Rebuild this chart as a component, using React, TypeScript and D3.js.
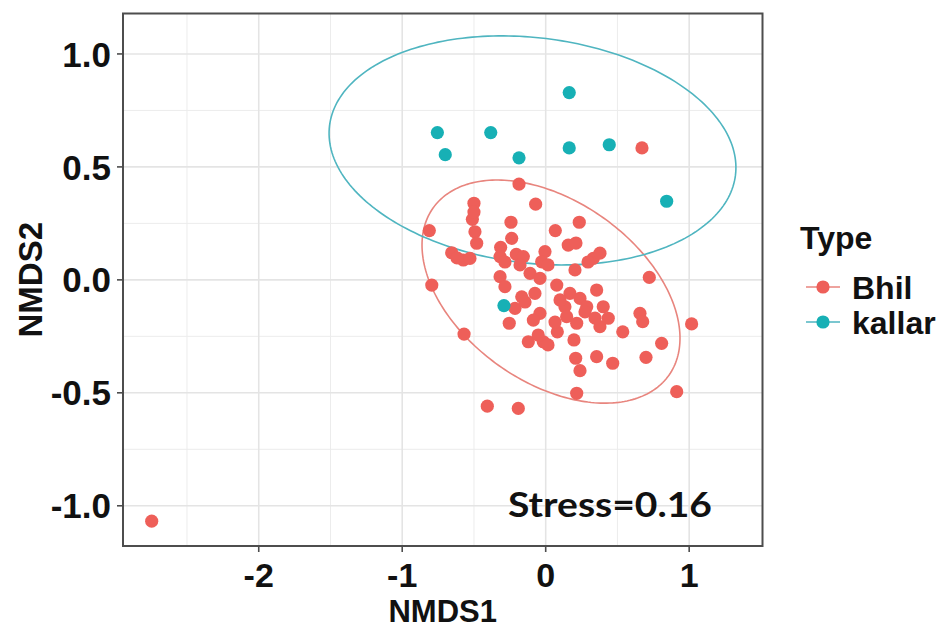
import React from "react";
import * as d3 from "d3";

// NMDS ordination scores per site, grouped by Type
const bhilX = [
  -0.186, -0.5, -0.07, 0.234, -0.811, -0.511, -0.493, -0.481, -0.242, 0.067,
  -0.237, -0.314, -0.205, 0.157, 0.211, -0.655, -0.574, -0.528, -0.318, -0.156,
  -0.005, -0.028, 0.332, 0.378, 0.204, -0.794, 0.722, -0.318, -0.109, -0.04,
  0.077, -0.284, 0.355, 0.169, -0.167, -0.075, 0.239, 0.134, 0.286, 0.401,
  -0.214, -0.04, -0.086, 0.146, 0.216, 0.378, 0.436, 0.657, 0.676, -0.254,
  -0.569, 0.081, 0.537, 1.017, -0.121, -0.017, -0.052, 0.197, 0.808, 0.209,
  0.355, 0.467, 0.699, 0.239, 0.216, 0.913, -0.407, -0.191, 0.671, -2.746,
  -0.618, -0.5, -0.284, -0.179, 0.016, 0.274, 0.1, 0.344, -0.144, 0.295,
  0.065, 0.016,
];
const bhilY = [
  0.424, 0.339, 0.335, 0.255, 0.218, 0.268, 0.213, 0.162, 0.255, 0.218,
  0.184, 0.144, 0.113, 0.154, 0.163, 0.12, 0.088, 0.095, 0.103, 0.103,
  0.125, 0.08, 0.095, 0.118, 0.044, -0.023, 0.011, 0.014, 0.029, 0.007,
  -0.023, -0.03, -0.045, -0.06, -0.075, -0.06, -0.082, -0.119, -0.119, -0.119,
  -0.126, -0.148, -0.178, -0.163, -0.192, -0.207, -0.17, -0.148, -0.185, -0.192,
  -0.24, -0.23, -0.23, -0.195, -0.274, -0.274, -0.244, -0.266, -0.281, -0.347,
  -0.34, -0.369, -0.343, -0.402, -0.502, -0.495, -0.559, -0.569, 0.584, -1.068,
  0.097, 0.3, 0.079, 0.066, 0.066, -0.142, -0.089, -0.169, -0.098, 0.079,
  -0.187, -0.288,
];
const kallarX = [0.164, -0.755, -0.383, -0.7, -0.186, 0.164, 0.443, 0.843, -0.291];
const kallarY = [0.829, 0.652, 0.652, 0.554, 0.54, 0.584, 0.598, 0.348, -0.114];

const groupNames = ["Bhil", "kallar"];
const pointColors = ["#EE5F59", "#17B0B5"];
const ellipseColors = ["#E8857E", "#4FB5C0"];

// 95% confidence ellipses: centre and two conjugate semi-axes in NMDS units
const ellipseCenters = [[0.037, -0.052], [-0.092, 0.573]];
const ellipseAxisA = [[0.822, -0.37], [1.4146, -0.1094]];
const ellipseAxisB = [[-0.364, -0.327], [-0.095, -0.495]];

const xLimits = [-2.946, 1.511];
const yLimits = [-1.178, 1.179];
const xTicks = [-2, -1, 0, 1];
const xTickLabels = ["-2", "-1", "0", "1"];
const xMinor = [-2.5, -1.5, -0.5, 0.5];
const yTicks = [-1, -0.5, 0, 0.5, 1];
const yTickLabels = ["-1.0", "-0.5", "0.0", "0.5", "1.0"];
const yMinor = [-0.75, -0.25, 0.25, 0.75];
const stressLabel = "Stress=0.16";

const W = 951;
const H = 630;
const panel = { left: 123, right: 762.5, top: 13.5, bottom: 546 };
const axisFont = "'Liberation Sans', Arial, sans-serif";

export default function App() {
  const x = d3.scaleLinear().domain(xLimits).range([panel.left, panel.right]);
  const y = d3.scaleLinear().domain(yLimits).range([panel.bottom, panel.top]);

  const groups = [
    { xs: bhilX, ys: bhilY },
    { xs: kallarX, ys: kallarY },
  ];

  const ellipsePath = (g: number) => {
    const c = ellipseCenters[g];
    const a = ellipseAxisA[g];
    const b = ellipseAxisB[g];
    const ts = d3.range(0, 2 * Math.PI, (2 * Math.PI) / 240);
    const pts: [number, number][] = ts.map((t) => [
      c[0] + a[0] * Math.cos(t) + b[0] * Math.sin(t),
      c[1] + a[1] * Math.cos(t) + b[1] * Math.sin(t),
    ]);
    return d3
      .line<[number, number]>()
      .x((d) => x(d[0]))
      .y((d) => y(d[1]))
      .curve(d3.curveLinearClosed)(pts) as string;
  };

  const gridColor = "#ECECEC";
  const axisColor = "#4D4D4D";

  return (
    <svg
      width={W}
      height={H}
      style={{ position: "absolute", left: 0, top: 0, background: "#fff" }}
    >
      <defs>
        <clipPath id="panel-clip">
          <rect
            x={panel.left}
            y={panel.top}
            width={panel.right - panel.left}
            height={panel.bottom - panel.top}
          />
        </clipPath>
      </defs>

      {/* grid */}
      <g>
        {xMinor.map((v) => (
          <line key={"xm" + v} x1={x(v)} x2={x(v)} y1={panel.top} y2={panel.bottom} stroke={gridColor} strokeWidth={1} />
        ))}
        {yMinor.map((v) => (
          <line key={"ym" + v} y1={y(v)} y2={y(v)} x1={panel.left} x2={panel.right} stroke={gridColor} strokeWidth={1} />
        ))}
        {xTicks.map((v) => (
          <line key={"xg" + v} x1={x(v)} x2={x(v)} y1={panel.top} y2={panel.bottom} stroke="#E4E4E4" strokeWidth={1.6} />
        ))}
        {yTicks.map((v) => (
          <line key={"yg" + v} y1={y(v)} y2={y(v)} x1={panel.left} x2={panel.right} stroke="#E4E4E4" strokeWidth={1.6} />
        ))}
      </g>

      {/* ellipses */}
      <g clipPath="url(#panel-clip)">
        {[0, 1].map((g) => (
          <path key={"el" + g} d={ellipsePath(g)} fill="none" stroke={ellipseColors[g]} strokeWidth={1.6} />
        ))}
      </g>

      {/* points */}
      <g>
        {groups.map((grp, g) =>
          grp.xs.map((v, i) => (
            <circle key={g + "-" + i} cx={x(v)} cy={y(grp.ys[i])} r={6.6} fill={pointColors[g]} />
          ))
        )}
      </g>

      {/* panel border */}
      <rect
        x={panel.left}
        y={panel.top}
        width={panel.right - panel.left}
        height={panel.bottom - panel.top}
        fill="none"
        stroke={axisColor}
        strokeWidth={2}
      />

      {/* x axis */}
      <g fontFamily={axisFont} fontWeight="bold" fill="#111">
        {xTicks.map((v, i) => (
          <g key={"xt" + v}>
            <line x1={x(v)} x2={x(v)} y1={panel.bottom} y2={panel.bottom + 6} stroke={axisColor} strokeWidth={1.6} />
            <text x={x(v)} y={587} textAnchor="middle" fontSize={34}>
              {xTickLabels[i]}
            </text>
          </g>
        ))}
        <text x={(panel.left + panel.right) / 2} y={622} textAnchor="middle" fontSize={31}>
          NMDS1
        </text>
      </g>

      {/* y axis */}
      <g fontFamily={axisFont} fontWeight="bold" fill="#111">
        {yTicks.map((v, i) => (
          <g key={"yt" + v}>
            <line x1={panel.left - 6} x2={panel.left} y1={y(v)} y2={y(v)} stroke={axisColor} strokeWidth={1.6} />
            <text x={111} y={y(v)} dy="0.36em" textAnchor="end" fontSize={35}>
              {yTickLabels[i]}
            </text>
          </g>
        ))}
        <text
          transform={`translate(42,${(panel.top + panel.bottom) / 2}) rotate(-90)`}
          textAnchor="middle"
          fontSize={33}
        >
          NMDS2
        </text>
      </g>

      {/* stress annotation */}
      <text
        x={508}
        y={517}
        fontFamily="Lato, 'Open Sans', sans-serif"
        fontWeight="bold"
        fontSize={34}
        fill="#111"
        textLength={204}
        lengthAdjust="spacingAndGlyphs"
      >
        {stressLabel}
      </text>

      {/* legend */}
      <g fontFamily={axisFont} fontWeight="bold" fill="#111">
        <text x={800} y={249} fontSize={32}>
          Type
        </text>
        {groupNames.map((name, g) => {
          const cy = 287 + g * 35;
          return (
            <g key={name}>
              <line x1={806} x2={840} y1={cy} y2={cy} stroke={ellipseColors[g]} strokeWidth={1.6} />
              <circle cx={823} cy={cy} r={6.6} fill={pointColors[g]} />
              <text x={852} y={cy} dy="0.36em" fontSize={32}>
                {name}
              </text>
            </g>
          );
        })}
      </g>
    </svg>
  );
}
